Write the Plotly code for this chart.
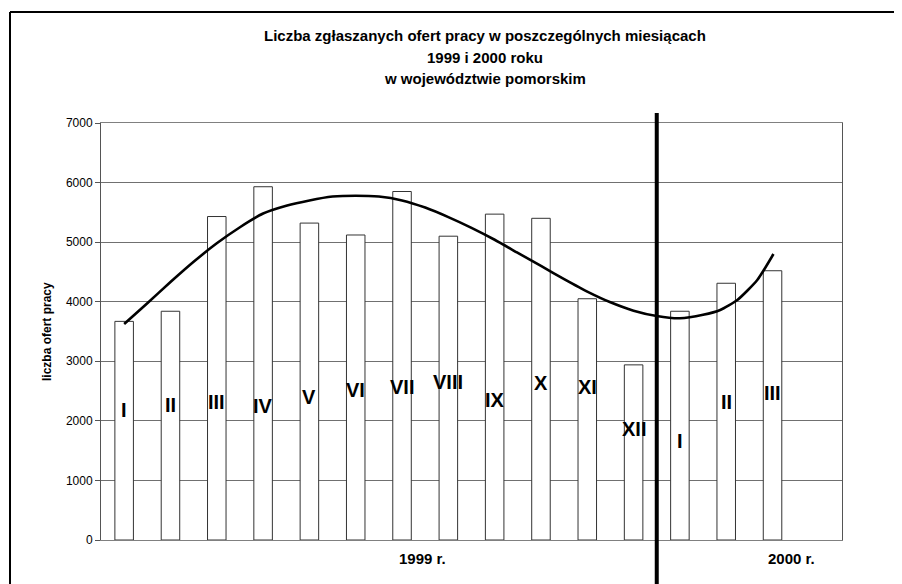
import plotly.graph_objects as go

# ---- data ----
months = ["I", "II", "III", "IV", "V", "VI", "VII", "VIII", "IX", "X", "XI", "XII", "I", "II", "III"]
offers = [3670, 3840, 5430, 5930, 5320, 5120, 5850, 5100, 5470, 5400, 4050, 2940, 3840, 4310, 4520]
# trend curve (category index, value)
trend_x = [0, 0.5, 1, 1.5, 2, 2.5, 3, 3.5, 4, 4.5, 5, 5.5, 6, 6.5, 7, 7.5, 8, 8.5, 9, 9.5,
           10, 10.5, 11, 11.5, 12, 12.5, 12.87, 13.24, 13.67, 14.02]
trend_y = [3626, 3975, 4330, 4670, 4980, 5250, 5480, 5610, 5700, 5765, 5780, 5765, 5700, 5580,
           5420, 5240, 5040, 4820, 4600, 4380, 4170, 3990, 3850, 3760, 3722, 3780, 3861, 4029,
           4365, 4801]
year_labels = ["1999 r.", "2000 r."]
y_ticks = [0, 1000, 2000, 3000, 4000, 5000, 6000, 7000]

# label heights (positions) for the month numerals
label_y = [2182, 2266, 2322, 2249, 2406, 2518, 2574, 2658, 2350, 2641, 2563, 1858, 1667, 2322, 2463]

OFF = 8  # page body margin
W, H = 902, 584
L, T = 101 - OFF, 123 - OFF
R = W - (842 - OFF)
B = H - (540 - OFF)
pw, ph = W - L - R, H - T - B


def px(sx):
    return (sx - OFF - L) / pw


def py(sy):
    return (H - (sy - OFF) - B) / ph


FONT = "Liberation Sans, Arial"
xs = list(range(len(months)))

fig = go.Figure()
fig.add_trace(go.Bar(
    x=xs, y=offers, width=0.4,
    marker=dict(color="white", line=dict(color="#333333", width=1)),
    hoverinfo="y", showlegend=False,
))
fig.add_trace(go.Scatter(
    x=trend_x, y=trend_y, mode="lines",
    line=dict(color="black", width=2.6, shape="spline", smoothing=0.6),
    showlegend=False, hoverinfo="skip",
))

ann = []
for i, (m, ly) in enumerate(zip(months, label_y)):
    ann.append(dict(x=i, y=ly, xref="x", yref="y", text="<b>%s</b>" % m, showarrow=False,
                    xanchor="center", yanchor="middle",
                    font=dict(family=FONT, size=20, color="black")))

title_lines = ["Liczba zgłaszanych ofert pracy w poszczególnych miesiącach",
               "1999 i 2000 roku", "w województwie pomorskim"]
for txt, sy in zip(title_lines, [36, 57, 78]):
    ann.append(dict(x=px(485), y=py(sy), xref="paper", yref="paper", showarrow=False,
                    xanchor="center", yanchor="middle",
                    text="<b>%s</b>" % txt, font=dict(family=FONT, size=15, color="black")))
# year labels under the axis
for txt, sx in zip(year_labels, [422, 791]):
    ann.append(dict(x=px(sx), y=py(558), xref="paper", yref="paper", showarrow=False,
                    xanchor="center", yanchor="middle",
                    text="<b>%s</b>" % txt, font=dict(family=FONT, size=15, color="black")))
# y axis title
ann.append(dict(x=px(47), y=py(332), xref="paper", yref="paper", showarrow=False,
                xanchor="center", yanchor="middle",
                text="<b>liczba ofert pracy</b>", textangle=-90,
                font=dict(family=FONT, size=12, color="black")))

shapes = [
    # divider between years
    dict(type="line", xref="x", yref="paper", x0=11.5, x1=11.5,
         y0=py(113), y1=py(600), line=dict(color="black", width=4)),
    # outer frame
    dict(type="line", xref="paper", yref="paper", x0=px(10), x1=px(10),
         y0=py(12), y1=py(610), line=dict(color="black", width=2)),
    dict(type="line", xref="paper", yref="paper", x0=px(10), x1=px(920),
         y0=py(12), y1=py(12), line=dict(color="black", width=2)),
]

fig.update_layout(
    width=W, height=H,
    margin=dict(l=L, r=R, t=T, b=B),
    paper_bgcolor="white", plot_bgcolor="white",
    annotations=ann, shapes=shapes,
    xaxis=dict(range=[-0.5, 15.5], showticklabels=False, ticks="", showgrid=False,
               zeroline=False, showline=True, linecolor="#808080", linewidth=1, mirror=True,
               fixedrange=True),
    yaxis=dict(range=[0, 7000], tickvals=y_ticks, ticks="outside", ticklen=5, tickcolor="#555555",
               showgrid=True, gridcolor="#707070", gridwidth=1, zeroline=False,
               showline=True, linecolor="#555555", linewidth=1, mirror=True,
               tickfont=dict(family=FONT, size=12, color="black"),
               fixedrange=True),
    font=dict(family=FONT),
)

fig.write_html("out.html")
